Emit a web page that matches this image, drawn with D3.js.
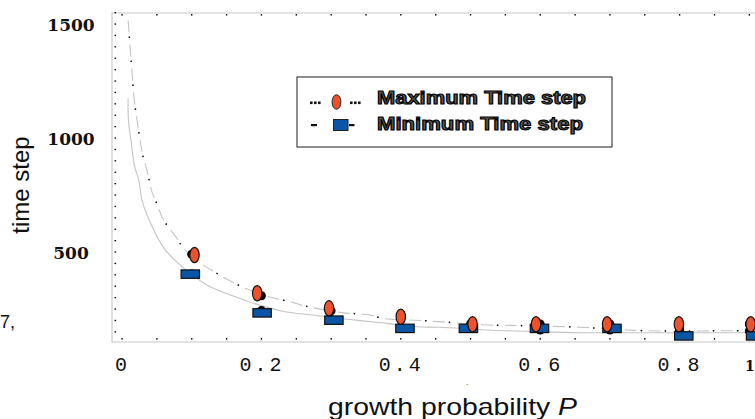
<!DOCTYPE html>
<html>
<head>
<meta charset="utf-8">
<script src="https://cdn.jsdelivr.net/npm/d3@7"></script>
<style>
  html, body { margin: 0; padding: 0; background: #fff; }
  svg { display: block; }
</style>
</head>
<body>
<div id="chart"></div>
<script>
// ---------------- data ----------------
// Maximum time step (orange ellipses), P
const maxP    = [0.104, 0.194, 0.297, 0.400, 0.503, 0.594, 0.696, 0.799, 0.902];
const maxVals = [487, 319, 253, 216, 183, 183, 183, 183, 183];
// Minimum time step (blue squares)
const minP    = [0.098, 0.201, 0.304, 0.406, 0.497, 0.599, 0.703, 0.806, 0.909];
const minVals = [403, 233, 201, 165, 165, 165, 165, 132, 132];
// black underlying markers
const blackP       = [0.1, 0.2, 0.3, 0.4, 0.5, 0.6, 0.7, 0.8, 0.9];
const blackMaxVals = [490, 308, 242, 212, 184, 184, 184, 160, 184];
const blackMinVals = [403, 243, 204, 168, 168, 158, 158, 158, 154];
// fitted curve for maximum (dash-dot)
const fitMaxP = [0.0088, 0.0133, 0.0176, 0.0220, 0.0265, 0.0306, 0.0349, 0.0392, 0.0430, 0.0478,
                 0.0598, 0.0789, 0.0885, 0.1100, 0.1281, 0.1482, 0.1769, 0.2105, 0.2463, 0.2630,
                 0.3156, 0.3558, 0.3735, 0.4319, 0.4659, 0.5232, 0.5591, 0.6571, 0.7479, 0.8938, 0.92];
const fitMaxV = [1515, 1329, 1167, 1070, 978, 912, 868, 813, 764, 728,
                 640, 560, 516, 457, 421, 385, 341, 304, 278, 263,
                 234, 224, 209, 199, 192, 180, 178, 170, 155, 155, 155];
// fitted curve for minimum (solid)
const fitMinP = [0.0088, 0.0092, 0.0133, 0.0182, 0.0240, 0.0287, 0.0359, 0.0478, 0.0621, 0.0861,
                 0.1244, 0.1626, 0.1961, 0.2343, 0.2726, 0.3128, 0.3415, 0.3798, 0.4228, 0.4562,
                 0.5232, 0.5997, 0.6571, 0.7241, 0.92];
const fitMinV = [1174, 1079, 978, 874, 816, 728, 662, 583, 509, 436,
                 351, 304, 268, 238, 224, 209, 199, 187, 172, 170,
                 158, 150, 146, 146, 146];
// ticks and labels
const xTickValues = [0, 0.2, 0.4, 0.6, 0.8, 0.9];
const xTickLabels = ["0", "0.2", "0.4", "0.6", "0.8", "1"];
const yTickValues = [500, 1000, 1500];
const yTickLabels = ["500", "1000", "1500"];
const legendLabels = ["Maximum Time step", "Minimum Time step"];
const xTitle = "growth probability ";
const xTitleVar = "P";
const yTitle = "time step";

// ---------------- layout ----------------
const W = 755, H = 419;
const frame = { left: 112, top: 13, bottom: 342, right: 760 };
const x = d3.scaleLinear().domain([0, 1]).range([122, 819]);
const y = d3.scaleLinear().domain([0, 1500]).range([366, 24]);

const ORANGE = "#f0502a", BLUE = "#0a55a5";

const svg = d3.select("#chart").append("svg")
  .attr("width", W).attr("height", H)
  .attr("viewBox", `0 0 ${W} ${H}`);

// frame
svg.append("path")
  .attr("d", `M${frame.right},${frame.top}H${frame.left}V${frame.bottom}H${frame.right}`)
  .attr("fill", "none").attr("stroke", "#c8c8c8").attr("stroke-width", 1.2);

// minor tick dots
const xMinor = d3.range(0, 1.0001, 0.05);
const yMinor = d3.range(150, 1560, 50);
const tickG = svg.append("g").attr("fill", "#000");
tickG.selectAll("rect.xb").data(xMinor).join("rect")
  .attr("x", d => x(d) - 0.6).attr("y", frame.bottom - 4).attr("width", 1.3).attr("height", 1.6);
tickG.selectAll("rect.xt").data(xMinor).join("rect")
  .attr("x", d => x(d) - 0.6).attr("y", frame.top + 1).attr("width", 1.3).attr("height", 1.6);
tickG.selectAll("rect.yl").data(yMinor).join("rect")
  .attr("x", frame.left + 2.5).attr("y", d => y(d) - 0.6).attr("width", 1.6).attr("height", 1.3);

// x tick labels via axis
const xAxis = d3.axisBottom(x).tickValues(xTickValues)
  .tickFormat((d, i) => xTickLabels[i]).tickSize(0);
const gx = svg.append("g").attr("transform", `translate(0,${frame.bottom})`).call(xAxis);
gx.select(".domain").remove();
gx.selectAll("text")
  .attr("y", 28.5).attr("dy", null)
  .attr("fill", "#111")
  .style("font-family", (d, i) => xTickLabels[i] === "1" ? "'DejaVu Serif', serif" : "'Liberation Mono', monospace")
  .style("font-weight", (d, i) => xTickLabels[i] === "1" ? "bold" : "normal")
  .style("font-size", (d, i) => xTickLabels[i] === "1" ? "14px" : "20px")
  .style("letter-spacing", (d, i) => xTickLabels[i] === "1" ? "0px" : "3px");

// y tick labels via axis
const yAxis = d3.axisLeft(y).tickValues(yTickValues)
  .tickFormat((d, i) => yTickLabels[i]).tickSize(0);
const gy = svg.append("g").attr("transform", `translate(71,0)`).call(yAxis);
gy.select(".domain").remove();
gy.selectAll("text")
  .attr("x", 0).attr("dy", "0.36em")
  .attr("text-anchor", "middle")
  .attr("fill", "#111")
  .style("font-family", "'DejaVu Serif', serif")
  .style("font-weight", "bold")
  .style("font-size", "17px");

// fitted curves
const line = d3.line().x(d => x(d[0])).y(d => y(d[1])).curve(d3.curveCatmullRom.alpha(0.5));
const fitMin = fitMinP.map((p, i) => [p, fitMinV[i]]);
const fitMax = fitMaxP.map((p, i) => [p, fitMaxV[i]]);

svg.append("path").attr("d", line(fitMin))
  .attr("fill", "none").attr("stroke", "#c4c4c4").attr("stroke-width", 1.1);
svg.append("path").attr("d", line(fitMax))
  .attr("fill", "none").attr("stroke", "#c4c4c4").attr("stroke-width", 1.1)
  .attr("stroke-dasharray", "12 12");
svg.append("path").attr("d", line(fitMax))
  .attr("fill", "none").attr("stroke", "#000").attr("stroke-width", 1.5)
  .attr("stroke-dasharray", "1.5 22.5").attr("stroke-dashoffset", -16);

// black underlying markers
const blackG = svg.append("g").attr("fill", "#000");
blackG.selectAll("circle.bmax").data(blackP).join("circle")
  .attr("cx", d => x(d)).attr("cy", (d, i) => y(blackMaxVals[i])).attr("r", 4.5);
blackG.selectAll("circle.bmin").data(blackP).join("circle")
  .attr("cx", d => x(d)).attr("cy", (d, i) => y(blackMinVals[i])).attr("r", 4.5);

// minimum squares
svg.append("g").selectAll("rect").data(minP).join("rect")
  .attr("x", d => x(d) - 9.2).attr("y", (d, i) => y(minVals[i]) - 4.2)
  .attr("width", 18.4).attr("height", 8.4)
  .attr("fill", BLUE).attr("stroke", "#111").attr("stroke-width", 1.2);

// maximum ellipses
svg.append("g").selectAll("ellipse").data(maxP).join("ellipse")
  .attr("cx", d => x(d)).attr("cy", (d, i) => y(maxVals[i]))
  .attr("rx", 4.7).attr("ry", 7.6)
  .attr("fill", ORANGE).attr("stroke", "#111").attr("stroke-width", 1.2);

// legend
const lg = svg.append("g");
lg.append("rect").attr("x", 297).attr("y", 77).attr("width", 315).attr("height", 70)
  .attr("fill", "#fff").attr("stroke", "#444").attr("stroke-width", 1.2);
// row 1 : dotted marks and ellipse
const dotsX = [310, 314, 318, 350, 354, 358];
lg.selectAll("rect.ld").data(dotsX).join("rect").attr("class", "ld")
  .attr("x", d => d).attr("y", 101.5).attr("width", 2.6).attr("height", 2.6).attr("fill", "#111");
lg.append("ellipse").attr("cx", 336.5).attr("cy", 102).attr("rx", 4.4).attr("ry", 7.2)
  .attr("fill", ORANGE).attr("stroke", "#222").attr("stroke-width", 1);
// row 2 : dashes and square
lg.append("rect").attr("x", 311).attr("y", 124).attr("width", 6).attr("height", 2.2).attr("fill", "#111");
lg.append("rect").attr("x", 333.5).attr("y", 119.5).attr("width", 14.5).attr("height", 11)
  .attr("fill", BLUE).attr("stroke", "#222").attr("stroke-width", 1);
lg.append("rect").attr("x", 349).attr("y", 124).attr("width", 5.5).attr("height", 2.2).attr("fill", "#111");

lg.selectAll("text.lab").data(legendLabels).join("text")
  .attr("class", "lab")
  .attr("x", 377).attr("y", (d, i) => 103.5 + i * 26.5)
  .attr("textLength", (d, i) => i === 0 ? 209 : 206)
  .attr("lengthAdjust", "spacingAndGlyphs")
  .attr("fill", "#5a5a5a").attr("stroke", "#000").attr("stroke-width", 1.1)
  .style("font-family", "'Liberation Sans', Arial, sans-serif")
  .style("font-weight", "bold").style("font-size", "18.5px")
  .text(d => d);

// axis titles
const xt = svg.append("text")
  .attr("x", 328).attr("y", 414.5)
  .attr("textLength", 249).attr("lengthAdjust", "spacingAndGlyphs")
  .attr("fill", "#111")
  .style("font-family", "'Liberation Sans', Arial, sans-serif").style("font-size", "24px");
xt.append("tspan").text(xTitle);
xt.append("tspan").style("font-style", "italic").text(xTitleVar);

svg.append("text")
  .attr("transform", "translate(29,185) rotate(-90)")
  .attr("text-anchor", "middle").attr("fill", "#111")
  .style("font-family", "'Liberation Sans', Arial, sans-serif").style("font-size", "24px")
  .text(yTitle);

// stray fragments in the picture
svg.append("text").attr("x", 0).attr("y", 328).attr("fill", "#111")
  .style("font-family", "'Liberation Sans', Arial, sans-serif").style("font-size", "18px").text("7,");
svg.append("text").attr("x", 466).attr("y", 385).attr("fill", "#111")
  .style("font-family", "'Liberation Sans', Arial, sans-serif").style("font-size", "8px").text(".");
</script>
</body>
</html>
